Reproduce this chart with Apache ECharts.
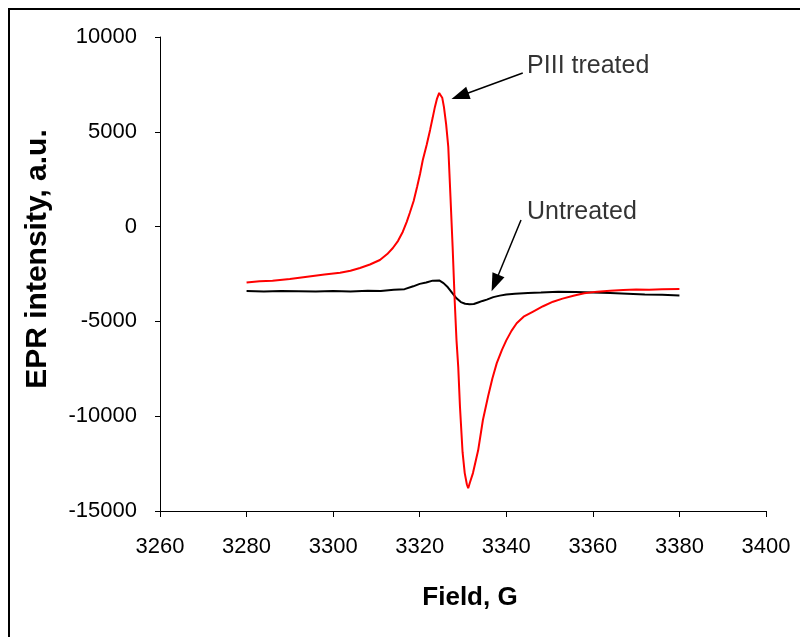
<!DOCTYPE html>
<html>
<head>
<meta charset="utf-8">
<script src="https://cdn.jsdelivr.net/npm/echarts@6/dist/echarts.min.js"></script>
<style>
html,body{margin:0;padding:0;background:#fff;}
#chart{width:800px;height:637px;}
</style>
</head>
<body>
<div id="chart"></div>
<script>
// Field (G) and EPR intensity
const fieldRed = [3280,3283,3286,3290,3294,3298,3301.6,3304,3306.2,3308.5,3310.8,3312.5,3313.8,3315,3316.1,3317,3317.7,3318.6,3319.4,3320.1,3320.7,3321.6,3322.4,3323,3323.5,3324,3324.5,3324.8,3325.2,3325.6,3326.1,3326.6,3327.1,3327.6,3328.1,3328.5,3328.9,3329.3,3329.9,3330.4,3330.9,3331.2,3331.6,3332.3,3333,3333.5,3334.6,3335.8,3336.8,3337.8,3339,3340,3341.2,3342.4,3344,3346.2,3348.5,3350.8,3353,3355.5,3358,3361,3364,3367,3370,3373,3376,3380];
const intensityRed = [-2950,-2880,-2850,-2760,-2640,-2530,-2430,-2330,-2180,-2000,-1760,-1450,-1130,-750,-270,250,720,1350,2100,2800,3500,4300,5100,5750,6300,6750,7050,7150,6800,6300,5400,4200,1600,-1050,-4000,-6000,-7400,-9500,-11900,-13000,-13600,-13800,-13500,-13000,-12300,-11800,-10200,-8950,-8000,-7200,-6500,-6000,-5500,-5100,-4750,-4480,-4200,-3960,-3800,-3650,-3520,-3430,-3380,-3350,-3320,-3330,-3300,-3290];

const fieldBlack = [3280,3284,3288,3292,3296,3300,3304,3308,3311,3314,3316.5,3318.5,3320,3321.5,3323,3324.5,3325.5,3326.5,3327.5,3328.5,3329.5,3330.5,3331.5,3332.5,3333.5,3334.5,3335.5,3337,3338.5,3340,3342,3345,3348,3352,3356,3360,3364,3368,3372,3376,3380];
const intensityBlack = [-3400,-3420,-3400,-3410,-3420,-3400,-3420,-3380,-3400,-3330,-3300,-3150,-3020,-2950,-2850,-2840,-2980,-3200,-3500,-3780,-3980,-4070,-4100,-4080,-4000,-3920,-3850,-3720,-3640,-3580,-3540,-3500,-3480,-3440,-3450,-3470,-3500,-3540,-3580,-3600,-3630];

const xTicks = [3260,3280,3300,3320,3340,3360,3380,3400];
const yTicks = [-15000,-10000,-5000,0,5000,10000];

// annotations
const noteTexts = ['PIII treated','Untreated'];
const noteField = [3344.8,3344.8];
const noteIntensity = [8470,770];
const arrowFrom = [[3343.8,8100],[3343.4,350]];
const arrowTo = [[3329.3,6890],[3337.4,-2975]];

const chart = echarts.init(document.getElementById('chart'), null, {renderer:'canvas'});
const FONT = '"Liberation Sans", Arial, sans-serif';

const option = {
  animation:false,
  backgroundColor:'#fff',
  grid:{left:160, right:34, top:37, bottom:126, containLabel:false},
  xAxis:{
    type:'value', min:xTicks[0], max:xTicks[xTicks.length-1], interval:20,
    name:'Field, G', nameLocation:'middle', nameGap:74,
    nameTextStyle:{fontFamily:FONT, fontWeight:'bold', fontSize:26, color:'#000', padding:[0,0,0,14]},
    axisLine:{show:true, onZero:false, lineStyle:{color:'#000', width:1}},
    axisTick:{show:true, length:6, lineStyle:{color:'#000'}},
    axisLabel:{fontFamily:FONT, fontSize:22, color:'#000', margin:25, showMinLabel:true, showMaxLabel:true,
      formatter:v=>String(v)},
    splitLine:{show:false}
  },
  yAxis:{
    type:'value', min:yTicks[0], max:yTicks[yTicks.length-1], interval:5000,
    name:'EPR intensity, a.u.', nameLocation:'middle', nameGap:107,
    nameTextStyle:{fontFamily:FONT, fontWeight:'bold', fontSize:30, color:'#000', padding:[0,0,0,30]},
    axisLine:{show:true, onZero:false, lineStyle:{color:'#000', width:1}},
    axisTick:{show:true, length:5, lineStyle:{color:'#000'}},
    axisLabel:{fontFamily:FONT, fontSize:22, color:'#000', margin:23, formatter:v=>String(v)},
    splitLine:{show:false}
  },
  series:[
    {
      name:'Untreated', type:'line', showSymbol:false, symbol:'none',
      data: fieldBlack.map((x,i)=>[x,intensityBlack[i]]),
      lineStyle:{color:'#000', width:2}, z:2,
      markLine:{
        silent:true, symbol:['none','triangle'], symbolSize:[13,18],
        label:{show:false},
        lineStyle:{color:'#000', width:1.5, type:'solid'},
        emphasis:{disabled:true},
        data: arrowFrom.map((f,i)=>[{coord:f},{coord:arrowTo[i]}])
      }
    },
    {
      name:'PIII treated', type:'line', showSymbol:false, symbol:'none',
      data: fieldRed.map((x,i)=>[x,intensityRed[i]]),
      lineStyle:{color:'#ff0000', width:2}, z:3
    },
    {
      name:'notes', type:'scatter', symbolSize:0, silent:true,
      data: noteField.map((x,i)=>({value:[x,noteIntensity[i]], name:noteTexts[i]})),
      label:{show:true, position:'right', distance:0, formatter:p=>p.name,
        fontFamily:FONT, fontSize:25, color:'#000'}
    }
  ],
  graphic:[
    {type:'rect', shape:{x:9, y:9, width:820, height:660}, style:{fill:'none', stroke:'#000', lineWidth:2}, silent:true}
  ]
};
chart.setOption(option);
</script>
</body>
</html>
